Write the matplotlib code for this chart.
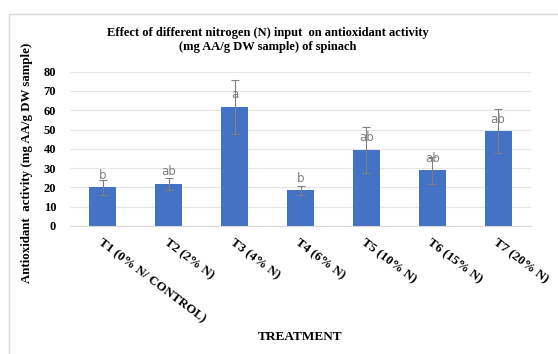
"""Antioxidant activity of spinach under different nitrogen inputs."""
import matplotlib
matplotlib.use('Agg')
import matplotlib.pyplot as plt
from matplotlib.patches import Rectangle

plt.rcParams['font.family'] = ['Liberation Serif', 'DejaVu Serif']

treatments = ['T1 (0% N/ CONTROL)', 'T2 (2% N)', 'T3 (4% N)', 'T4 (6% N)',
              'T5 (10% N)', 'T6 (15% N)', 'T7 (20% N)']
activity = [20.0, 21.8, 61.7, 18.5, 39.4, 28.9, 49.2]
errors = [4.1, 3.3, 14.0, 2.4, 12.0, 7.0, 11.4]
letters = ['b', 'ab', 'a', 'b', 'ab', 'ab', 'ab']
yticks = [0, 10, 20, 30, 40, 50, 60, 70, 80]

fig = plt.figure(figsize=(5.58, 3.54), dpi=100)
# chart frame (light border, cut off at right/bottom)
fig.patches.append(Rectangle((9 / 558, -0.05), 1.1, 1 - 13.5 / 354 + 0.05,
                             transform=fig.transFigure, fill=False,
                             edgecolor='#d9d9d9', linewidth=1.0))

ax = fig.add_axes([70 / 558, 1 - 226 / 354, 461 / 558, (226 - 71.7) / 354])
x = list(range(len(treatments)))
ax.bar(x, activity, width=0.41, color='#4472C4', zorder=2)
ax.errorbar(x, activity, yerr=errors, fmt='none', ecolor='#7f7f7f',
            elinewidth=0.8, capsize=3, capthick=0.8, zorder=3)
for xi, val, lab in zip(x, activity, letters):
    ax.annotate(lab, (xi, val), xytext=(0, 4), textcoords='offset points',
                ha='center', va='bottom', fontsize=8.5, color='#7f7f7f',
                family=['DejaVu Sans'], zorder=4)

ax.set_xlim(-0.5, 6.5)
ax.set_ylim(0, 80)
ax.set_yticks(yticks)
ax.yaxis.grid(True, color='#e6e6e6', linewidth=0.8, zorder=0)
ax.set_axisbelow(True)
for s in ['top', 'right', 'left']:
    ax.spines[s].set_visible(False)
ax.spines['bottom'].set_color('#d9d9d9')
ax.tick_params(length=0, labelsize=9)
for t in ax.get_yticklabels():
    t.set_fontweight('bold')
ax.set_xticks(x)
ax.set_xticklabels(treatments, rotation=-37, ha='left', va='top',
                   rotation_mode='anchor', fontweight='bold', fontsize=9.3)
ax.tick_params(axis='x', pad=8)
ax.tick_params(axis='y', pad=10)

fig.text(268 / 558, 1 - 40 / 354,
         'Effect of different nitrogen (N) input  on antioxidant activity\n'
         '(mg AA/g DW sample) of spinach',
         ha='center', va='center', fontsize=9, fontweight='bold',
         linespacing=1.25)
fig.text(27 / 558, 1 - 163 / 354, 'Antioxidant  activity (mg AA/g DW sample)',
         rotation=90, ha='center', va='center', fontsize=9.3, fontweight='bold')
fig.text(300 / 558, 1 - 337 / 354, 'TREATMENT', ha='center', va='center',
         fontsize=9.5, fontweight='bold')

plt.savefig('out.png', dpi=100)
plt.close()
